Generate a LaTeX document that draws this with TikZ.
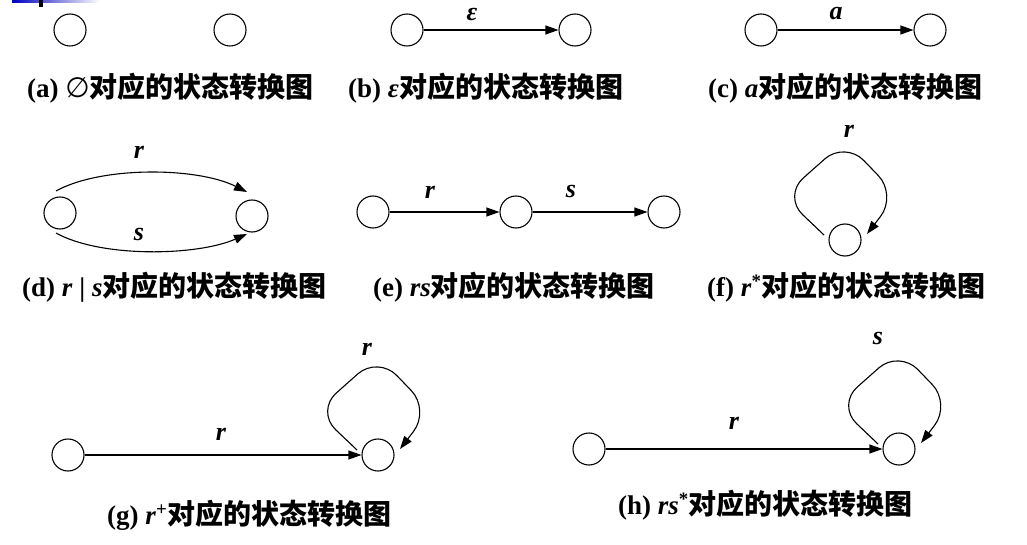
\documentclass[tikz,border=0pt]{standalone}
\usepackage{fontspec}
\setmainfont{Liberation Serif}
\newfontfamily\cjk{Noto Sans CJK SC}
\newfontfamily\symf{DejaVu Sans}
\usetikzlibrary{arrows.meta}
\newcommand\capcn{{\cjk\bfseries\fontsize{28}{30}\selectfont 对应的状态转换图}}
\begin{document}
\begin{tikzpicture}[x=1pt,y=-1pt,
  state/.style={circle,draw,line width=1.1pt,minimum size=32pt,inner sep=0pt},
  arr/.style={line width=1.1pt,-{Triangle[length=13pt,width=9pt]}},
  lbl/.style={font=\fontsize{26}{28}\selectfont\bfseries\itshape,inner sep=0pt},
  captn/.style={anchor=west,inner sep=0pt,font=\fontsize{27}{30}\selectfont\bfseries},
  loopline/.style={arr,rounded corners=27pt}]
\useasboundingbox (0,0) rectangle (1027,545);
% slide decoration
\shade[left color=blue!75!black,right color=white] (12,0) rectangle (100,2.5);
\fill[black] (39,0) rectangle (43,7);
% (a)
\node[state] (a1) at (70,30) {};
\node[state] (a2) at (230,30) {};
\node[captn] (ca) at (27,88) {(a) {\symf\mdseries\fontsize{28}{30}\selectfont ∅}\capcn};
% (b)
\node[state] (b1) at (407,30) {};
\node[state] (b2) at (575,30) {};
\draw[arr] (b1) -- (b2);
\node[lbl] (lb) at (472,15) {ε};
\node[captn] (cb) at (348,88) {(b) \textit{ε}\capcn};
% (c)
\node[state] (c1) at (761,30) {};
\node[state] (c2) at (930,30) {};
\draw[arr] (c1) -- (c2);
\node[lbl] (lc) at (836,14) {a};
\node[captn] (cc) at (708,88) {(c) \textit{a}\capcn};
% (d)
\node[state] (d1) at (60,213) {};
\node[state] (d2) at (252,216) {};
\draw[arr] ([shift={(-4,-22)}]d1.center) .. controls +(45,-25) and +(-50,-25) .. ([shift={(-5,-24)}]d2.center);
\draw[arr] ([shift={(-4,20)}]d1.center) .. controls +(45,25) and +(-50,22) .. ([shift={(-5,18)}]d2.center);
\node[lbl] (ld1) at (139,152) {r};
\node[lbl] (ld2) at (139,235) {s};
\node[captn] (cd) at (22,287) {(d) \textit{r} | \textit{s}\capcn};
% (e)
\node[state] (e1) at (373,212) {};
\node[state] (e2) at (516,212) {};
\node[state] (e3) at (664,212) {};
\draw[arr] (e1) -- (e2);
\draw[arr] (e2) -- (e3);
\node[lbl] (le1) at (430,192) {r};
\node[lbl] (le2) at (571,192) {s};
\node[captn] (ce) at (373,287) {(e) \textit{rs}\capcn};
% (f)
\node[state] (f1) at (845,240) {};
\draw[loopline] ([shift={(-21,-5)}]f1.center) -- ([shift={(-62,-44)}]f1.center) -- ([shift={(0,-99)}]f1.center) -- ([shift={(52,-45)}]f1.center) -- ([shift={(22,-6)}]f1.center);
\node[lbl] (lf) at (849,131) {r};
\node[captn] (cf) at (707,287) {(f) \textit{r}\textsuperscript{*}\capcn};
% (g)
\node[state] (g1) at (68,455) {};
\node[state] (g2) at (378,455) {};
\draw[arr] (g1) -- (g2);
\draw[loopline] ([shift={(-21,-5)}]g2.center) -- ([shift={(-62,-44)}]g2.center) -- ([shift={(0,-99)}]g2.center) -- ([shift={(52,-45)}]g2.center) -- ([shift={(22,-6)}]g2.center);
\node[lbl] (lg1) at (221,434) {r};
\node[lbl] (lg2) at (367,349) {r};
\node[captn] (cg) at (107,515) {(g) \textit{r}\textsuperscript{+}\capcn};
% (h)
\node[state] (h1) at (589,449) {};
\node[state] (h2) at (899,449) {};
\draw[arr] (h1) -- (h2);
\draw[loopline] ([shift={(-21,-5)}]h2.center) -- ([shift={(-62,-44)}]h2.center) -- ([shift={(0,-99)}]h2.center) -- ([shift={(52,-45)}]h2.center) -- ([shift={(22,-6)}]h2.center);
\node[lbl] (lh1) at (734,423) {r};
\node[lbl] (lh2) at (878,339) {s};
\node[captn] (ch) at (618,505) {(h) \textit{rs}\textsuperscript{*}\capcn};
\end{tikzpicture}
\end{document}
